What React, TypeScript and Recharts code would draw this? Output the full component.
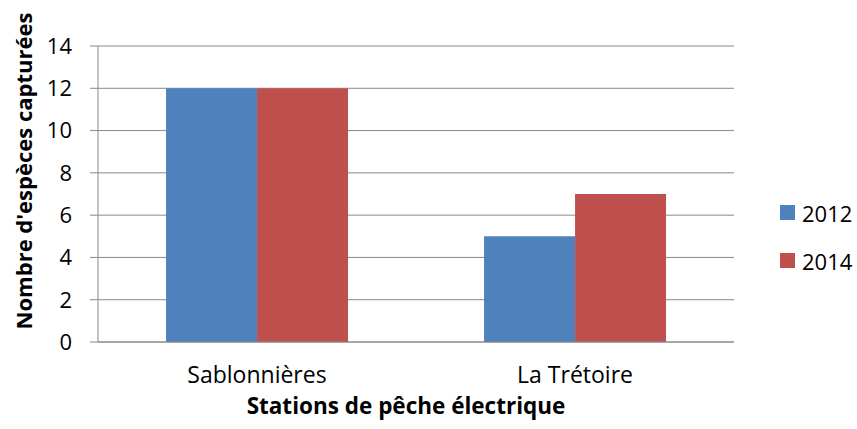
import React from 'react';
import { BarChart, Bar, XAxis, YAxis, CartesianGrid, Legend, Label } from 'recharts';

const categories = ['Sablonnières', 'La Trétoire'];
const values2012 = [12, 5];
const values2014 = [12, 7];
const yTicks = [0, 2, 4, 6, 8, 10, 12, 14];
const seriesNames = ['2012', '2014'];
const seriesColors = ['#4F81BD', '#C0504D'];

const data = categories.map((c, i) => ({ name: c, s2012: values2012[i], s2014: values2014[i] }));

const FONT = '"Open Sans", sans-serif';
const GRID = '#898989';

const XTitle = (props: any) => {
  const vb = props.viewBox || {};
  return (
    <text x={vb.x + vb.width / 2 - 10} y={vb.y + 72} textAnchor="middle" fontFamily={FONT} fontSize={22.5} fontWeight="bold" fill="#000">
      Stations de pêche électrique
    </text>
  );
};

const YTitle = (props: any) => {
  const vb = props.viewBox || {};
  const x = vb.x + 32;
  const y = vb.y + vb.height / 2 - 23;
  return (
    <text x={x} y={y} transform={`rotate(-90, ${x}, ${y})`} textAnchor="middle" fontFamily={FONT} fontSize={22} fontWeight="bold" fill="#000">
      Nombre d'espèces capturées
    </text>
  );
};

const LegendContent = (props: any) => {
  const payload = props.payload || [];
  return (
    <div style={{ fontFamily: FONT, fontSize: 22, color: '#000' }}>
      {payload.map((p: any) => (
        <div key={p.value} style={{ height: 48, display: 'flex', alignItems: 'center' }}>
          <div style={{ width: 15, height: 15, background: p.color, marginRight: 7 }} />
          <span style={{ lineHeight: '22px' }}>{p.value}</span>
        </div>
      ))}
    </div>
  );
};

export default function App() {
  return (
    <div style={{ position: 'absolute', left: 0, top: 0, width: 857, height: 429, background: '#fff' }}>
      <BarChart
        width={857}
        height={429}
        data={data}
        margin={{ top: 46, right: 46, left: 0, bottom: 0 }}
        barCategoryGap="21.4%"
        barGap={0}
      >
        <CartesianGrid vertical={false} stroke={GRID} strokeWidth={1} />
        <XAxis
          dataKey="name"
          height={87}
          tickLine={false}
          tickSize={0}
          tickMargin={25}
          axisLine={{ stroke: GRID }}
          tick={{ fontFamily: FONT, fontSize: 23, fill: '#000' }}
        >
          <Label content={<XTitle />} />
        </XAxis>
        <YAxis
          width={98}
          domain={[0, 14]}
          ticks={yTicks}
          interval={0}
          tickSize={8}
          tickMargin={18}
          tickLine={{ stroke: GRID }}
          axisLine={{ stroke: GRID }}
          tick={{ fontFamily: FONT, fontSize: 22, fill: '#000' }}
        >
          <Label content={<YTitle />} />
        </YAxis>
        <Legend
          layout="vertical"
          align="right"
          verticalAlign="top"
          content={<LegendContent />}
          wrapperStyle={{ position: 'absolute', left: 780, top: 188.5, width: 77 }}
        />
        <Bar dataKey="s2012" name={seriesNames[0]} fill={seriesColors[0]} isAnimationActive={false} />
        <Bar dataKey="s2014" name={seriesNames[1]} fill={seriesColors[1]} isAnimationActive={false} />
      </BarChart>
    </div>
  );
}
